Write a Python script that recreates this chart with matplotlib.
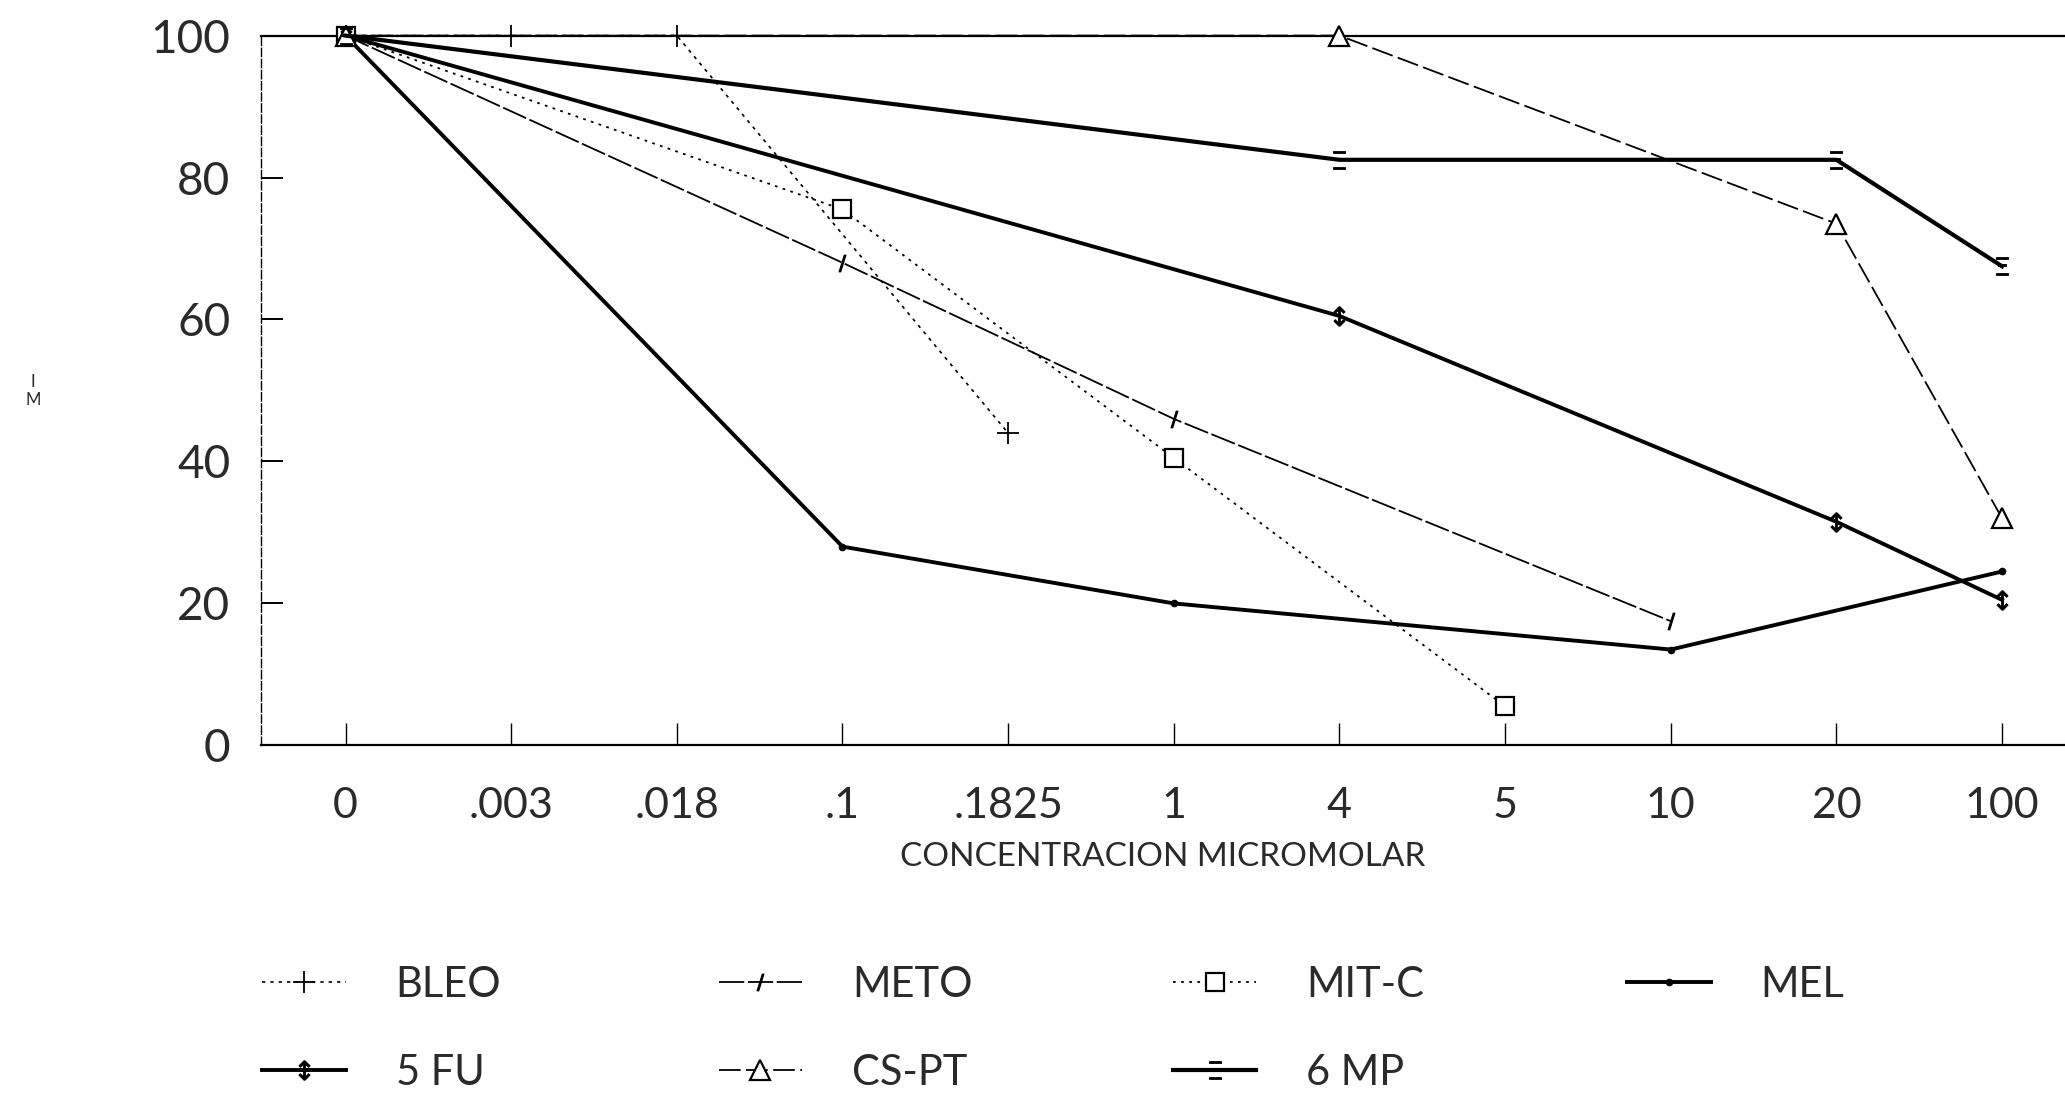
import matplotlib
matplotlib.use("Agg")
import matplotlib.pyplot as plt

categories = ['0', '.003', '.018', '.1', '.1825', '1', '4', '5', '10', '20', '100']
yticks = [0, 20, 40, 60, 80, 100]

bleo = [100, 100, 100, None, 44, None, None, None, None, None, None]
meto = [100, None, None, 68, None, 46, None, None, 17.5, None, None]
mitc = [100, None, None, 75.5, None, 40.5, None, 5.5, None, None, None]
mel = [100, None, None, 28, None, 20, None, None, 13.5, None, 24.5]
fu5 = [100, None, None, None, None, None, 60.5, None, None, 31.5, 20.5]
cspt = [100, None, None, None, None, None, 100, None, None, 73.5, 32]
mp6 = [100, None, None, None, None, None, 82.5, None, None, 82.5, 67.5]

names = ['BLEO', 'METO', 'MIT-C', 'MEL', '5 FU', 'CS-PT', '6 MP']
xlabel = 'CONCENTRACION MICROMOLAR'

FONT = ['Lato', 'DejaVu Sans']
TXT = '#2a2a2a'
W = 'normal'

fig = plt.figure(figsize=(20.65, 10.95), dpi=100)
ax = fig.add_axes([0.1264, 0.3193, 0.8736, 0.6482])

styles = {
    'BLEO': dict(data=bleo, ls=(0, (2, 3)), lw=1.2, marker='+', ms=16, mew=1.3, mfc='none'),
    'METO': dict(data=meto, ls=(0, (14, 2)), lw=1.3, marker='$/$', ms=12, mew=0.8, mfc='black'),
    'MIT-C': dict(data=mitc, ls=(0, (1.5, 3)), lw=1.3, marker='s', ms=13, mew=1.6, mfc='white'),
    'MEL': dict(data=mel, ls='-', lw=2.8, marker='.', ms=9, mew=1.0, mfc='black'),
    '5 FU': dict(data=fu5, ls='-', lw=2.8, marker='$\\updownarrow$', ms=14, mew=0.6, mfc='black'),
    'CS-PT': dict(data=cspt, ls=(0, (12, 3)), lw=1.3, marker='^', ms=14, mew=1.6, mfc='white'),
    '6 MP': dict(data=mp6, ls='-', lw=3.0, marker='$\\Xi$', ms=13, mew=0.6, mfc='black'),
}

handles = {}
for name in names:
    st = styles[name]
    xs = [i for i, v in enumerate(st['data']) if v is not None]
    ys = [v for v in st['data'] if v is not None]
    ln, = ax.plot(xs, ys, color='black', ls=st['ls'], lw=st['lw'], marker=st['marker'],
                  ms=st['ms'], mew=st['mew'], mfc=st['mfc'], mec='black', clip_on=False,
                  zorder=3)
    handles[name] = ln

ax.set_xlim(-0.51, 10.38)
ax.set_ylim(0, 100)
ax.set_xticks(range(len(categories)))
ax.set_xticklabels(categories)
ax.set_yticks(yticks)
ax.set_yticklabels([str(v) for v in yticks])

for side in ['bottom', 'top']:
    ax.spines[side].set_linewidth(1.6)
ax.spines['left'].set_linewidth(1.0)
ax.spines['left'].set_linestyle((0, (6, 2)))
ax.spines['right'].set_visible(False)

ax.tick_params(axis='y', direction='in', length=16, width=1.4, pad=22,
               labelsize=33, colors='black', labelcolor=TXT)
ax.tick_params(axis='x', direction='in', length=16, width=1.0, pad=30,
               labelsize=31, colors='black', labelcolor=TXT)
for lab in ax.get_xticklabels() + ax.get_yticklabels():
    lab.set_family(FONT)
    lab.set_fontweight(W)

ax.set_xlabel(xlabel, fontsize=24, family=FONT, fontweight=W, color=TXT, labelpad=12)

fig.text(0.016, 0.643, 'I\nM', fontsize=12, family=FONT, color=TXT, ha='center', va='center',
         linespacing=1.1)

# legend: four columns, each its own legend box
cols = [['BLEO', '5 FU'], ['METO', 'CS-PT'], ['MIT-C', '6 MP'], ['MEL']]
col_x = [0.127, 0.348, 0.568, 0.788]
for cx, col in zip(col_x, cols):
    hs = [handles[n] for n in col]
    leg = fig.legend(hs, col, loc='upper left', bbox_to_anchor=(cx, 0.118),
                     frameon=False, handlelength=2.0, handletextpad=1.2,
                     labelspacing=1.2, borderaxespad=0, borderpad=0,
                     prop=dict(family=FONT, weight=W, size=30))
    for t in leg.get_texts():
        t.set_color(TXT)

fig.savefig('out.png', dpi=100, facecolor='white')
